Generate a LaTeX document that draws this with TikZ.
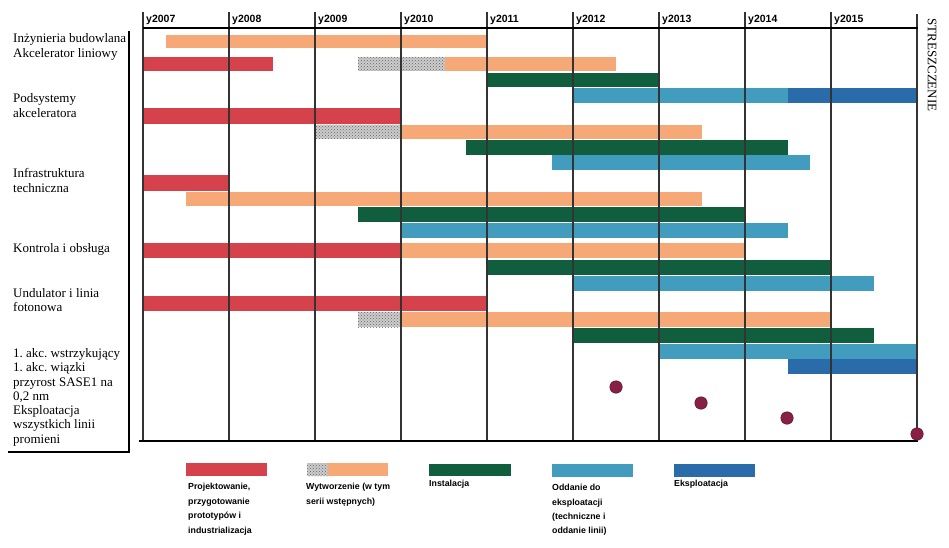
\documentclass[tikz,border=0pt]{standalone}
\usepackage{fontspec}
\setmainfont{Liberation Serif}
\newfontfamily\arialfont{Liberation Sans}
\usetikzlibrary{patterns}
\definecolor{cRed}{RGB}{214,66,76}
\definecolor{cOrange}{RGB}{246,168,118}
\definecolor{cGreen}{RGB}{16,94,62}
\definecolor{cCyan}{RGB}{66,156,190}
\definecolor{cBlue}{RGB}{42,108,170}
\definecolor{cDot}{RGB}{135,32,68}
\newcommand\gbar[5]{\fill[#5] (#1,#3) rectangle (#2,#4);}
\newcommand\hatchbar[4]{\path[hatchbox] (#1,#3) rectangle (#2,#4);}
\frenchspacing
\begin{document}
\begin{tikzpicture}[x=1pt,y=-1pt,
  lbl/.style={anchor=base west, inner sep=0pt, font=\fontsize{13}{15}\selectfont},
  yr/.style={anchor=base west, inner sep=0pt, font=\arialfont\bfseries\fontsize{10.5}{12}\selectfont},
  leg/.style={anchor=base west, inner sep=0pt, font=\arialfont\bfseries\fontsize{8.8}{12}\selectfont},
  gridline/.style={line width=1.1pt, black!80},
  axisline/.style={line width=2.6pt, black},
  hatchbox/.style={fill=gray!40, postaction={pattern=crosshatch dots, pattern color=black!60}},
  milestone/.style={circle, fill=cDot, draw=cDot!70!black, line width=0.5pt, minimum size=12.5pt, inner sep=0pt},
]
\useasboundingbox (0,0) rectangle (949,548);

% ---- bars ----
\gbar{166}{487}{35}{48}{cOrange}
\gbar{143}{273}{57}{71}{cRed}
\hatchbar{358}{445}{57}{71}
\gbar{445}{616}{57}{71}{cOrange}
\gbar{487}{659}{73}{87}{cGreen}
\gbar{573}{788}{88}{103}{cCyan}
\gbar{788}{917}{88}{103}{cBlue}
\gbar{143}{401}{108}{124}{cRed}
\hatchbar{315}{401}{125}{139}
\gbar{401}{702}{125}{139}{cOrange}
\gbar{466}{788}{140}{155}{cGreen}
\gbar{552}{810}{155}{170}{cCyan}
\gbar{143}{229}{175}{191}{cRed}
\gbar{186}{702}{192}{206}{cOrange}
\gbar{358}{745}{207}{222}{cGreen}
\gbar{401}{788}{223}{238}{cCyan}
\gbar{143}{401}{243}{258}{cRed}
\gbar{401}{745}{243}{258}{cOrange}
\gbar{487}{832}{260}{275}{cGreen}
\gbar{573}{874}{276}{291}{cCyan}
\gbar{143}{487}{296}{311}{cRed}
\hatchbar{358}{401}{312}{327}
\gbar{401}{831}{312}{327}{cOrange}
\gbar{573}{874}{328}{343}{cGreen}
\gbar{659}{917}{344}{359}{cCyan}
\gbar{788}{917}{359}{374}{cBlue}

% ---- grid ----
\foreach \x in {143,229,315,401,487,573,659,745,831}
  \draw[gridline] (\x,12) -- (\x,441);
\draw[gridline] (917,14) -- (917,441);
\draw[axisline] (143,28) -- (918,28);
\draw[axisline] (139,441) -- (918,441);

% ---- milestones ----
\node[milestone] (m1) at (616,387) {};
\node[milestone] (m2) at (701,403) {};
\node[milestone] (m3) at (787,418) {};
\node[milestone] (m4) at (917,434) {};

% ---- year labels ----
\node[yr] (y07) at (146,23) {y2007};
\node[yr] (y08) at (232,23) {y2008};
\node[yr] (y09) at (318,23) {y2009};
\node[yr] (y10) at (404,23) {y2010};
\node[yr] (y11) at (490,23) {y2011};
\node[yr] (y12) at (576,23) {y2012};
\node[yr] (y13) at (662,23) {y2013};
\node[yr] (y14) at (748,23) {y2014};
\node[yr] (y15) at (834,23) {y2015};

\node[rotate=-90, inner sep=0pt, font=\fontsize{13}{15}\selectfont] (title) at (932,65) {STRESZCZENIE};

% ---- left box ----
\draw[line width=1.3pt] (129,31) -- (129,452) -- (8,452);

% ---- row labels ----
\node[lbl] (l1) at (13,43) {Inżynieria budowlana};
\node[lbl] (l2) at (13,58) {Akcelerator liniowy};
\node[lbl] (l3) at (13,103) {Podsystemy};
\node[lbl] (l4) at (13,117.5) {akceleratora};
\node[lbl] (l5) at (13,177.5) {Infrastruktura};
\node[lbl] (l6) at (13,192) {techniczna};
\node[lbl] (l7) at (13,252) {Kontrola i obsługa};
\node[lbl] (l8) at (13,297) {Undulator i linia};
\node[lbl] (l9) at (13,311.5) {fotonowa};
\node[lbl] (l10) at (13,357) {1. akc. wstrzykujący};
\node[lbl] (l11) at (13,371.5) {1. akc. wiązki};
\node[lbl] (l12) at (13,386) {przyrost SASE1 na};
\node[lbl] (l13) at (13,400) {0,2 nm};
\node[lbl] (l14) at (13,414.5) {Eksploatacja};
\node[lbl] (l15) at (13,428.5) {wszystkich linii};
\node[lbl] (l16) at (13,443) {promieni};

% ---- legend ----
\gbar{186}{267}{463}{476}{cRed}
\hatchbar{307}{328}{463}{476}
\gbar{328}{388}{463}{476}{cOrange}
\gbar{429}{511}{464}{476}{cGreen}
\gbar{552}{633}{464}{477}{cCyan}
\gbar{674}{755}{464}{477}{cBlue}

\node[leg] (p1) at (188,489) {Projektowanie,};
\node[leg] (p2) at (188,504) {przygotowanie};
\node[leg] (p3) at (188,518.5) {prototypów i};
\node[leg] (p4) at (188,533) {industrializacja};
\node[leg] (w1) at (306,489) {Wytworzenie (w tym};
\node[leg] (w2) at (306,504) {serii wstępnych)};
\node[leg] (i1) at (429,486) {Instalacja};
\node[leg] (o1) at (552,490) {Oddanie do};
\node[leg] (o2) at (552,505) {eksploatacji};
\node[leg] (o3) at (552,519) {(techniczne i};
\node[leg] (o4) at (552,533) {oddanie linii)};
\node[leg] (e1) at (674,486) {Eksploatacja};
\end{tikzpicture}
\end{document}
